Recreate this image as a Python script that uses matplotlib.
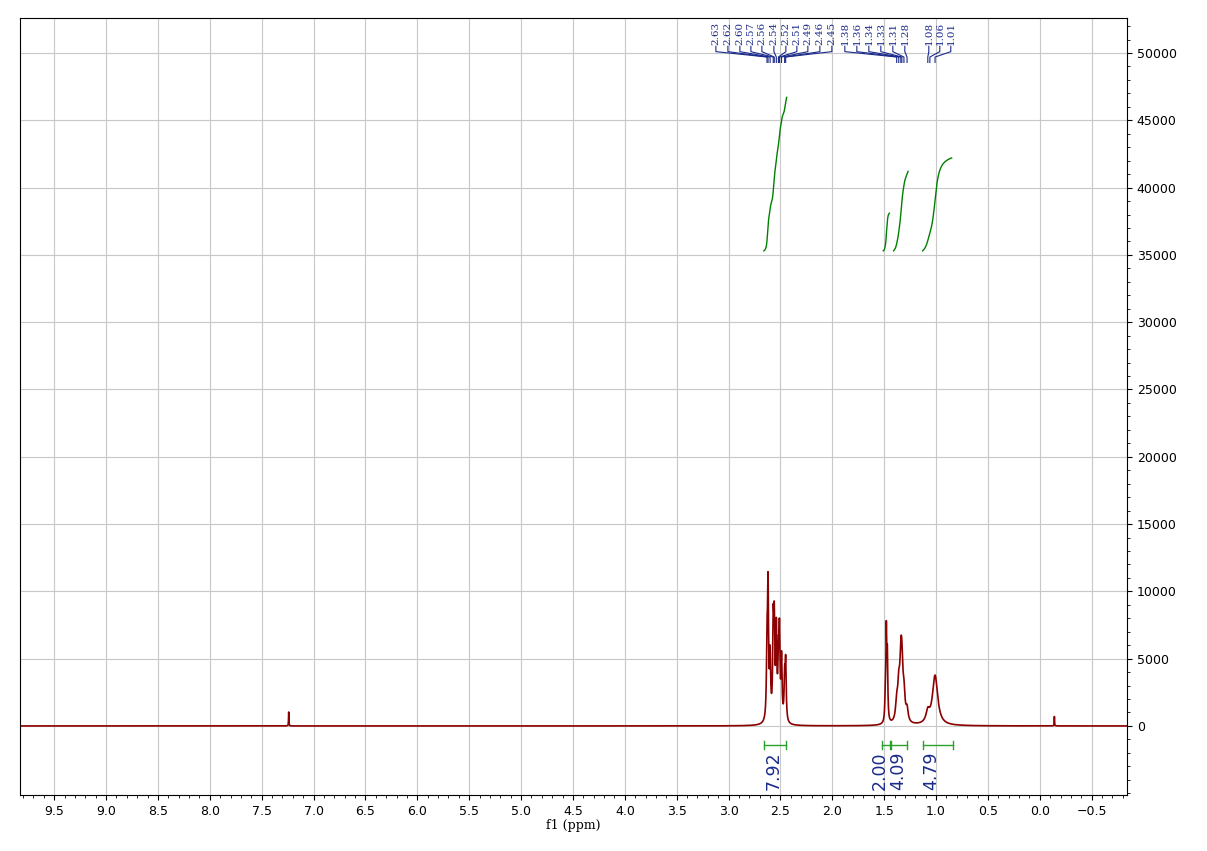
import numpy as np
import matplotlib.pyplot as plt
from matplotlib.ticker import MultipleLocator

# peak list (ppm, height)
peak_ppm = [2.63, 2.62, 2.60, 2.57, 2.56, 2.54, 2.52, 2.51, 2.49, 2.46, 2.45,
            1.49, 1.48, 1.47, 1.38, 1.36, 1.34, 1.33, 1.31, 1.28,
            1.08, 1.01, 7.24, -0.14]
peak_h = [5000, 9500, 4500, 6500, 6500, 6500, 4000, 6000, 4500, 3000, 4200,
          1500, 6500, 4500, 1300, 2300, 3500, 3300, 1800, 900,
          800, 3700, 1050, 700]
peak_w = [0.006] * 11 + [0.005] * 3 + [0.012] * 6 + [0.02, 0.03, 0.002, 0.002]

label_txt = ["2.63", "2.62", "2.60", "2.57", "2.56", "2.54", "2.52", "2.51", "2.49",
             "2.46", "2.45", "1.38", "1.36", "1.34", "1.33", "1.31", "1.28",
             "1.08", "1.06", "1.01"]
label_px = [716, 728, 740, 751, 762, 774, 786, 797, 808, 820, 832,
            845, 857, 869, 881, 893, 905, 929, 940, 951]
lab_peaks = [2.63, 2.62, 2.60, 2.57, 2.56, 2.54, 2.52, 2.51, 2.49, 2.46, 2.45,
             1.38, 1.36, 1.34, 1.33, 1.31, 1.28, 1.08, 1.06, 1.01]

int_ranges = [(2.66, 2.44), (1.51, 1.45), (1.41, 1.27), (1.13, 0.85)]
int_values = ["7.92", "2.00", "4.09", "4.79"]
int_tops = [46700, 38100, 41200, 42200]
int_label_x = [2.57, 1.54, 1.37, 1.05]
int_bracket = [(2.66, 2.45), (1.52, 1.44), (1.43, 1.28), (1.13, 0.84)]

x = np.linspace(9.83, -0.84, 20000)
y = np.zeros_like(x)
for p, h, w in zip(peak_ppm, peak_h, peak_w):
    y += h / (1 + ((x - p) / w) ** 2)

fig = plt.figure(figsize=(12.07, 8.51), dpi=100)
ax = fig.add_axes([20 / 1207, 56 / 851, 1107 / 1207, 777 / 851])
ax.plot(x, y, color='#8b0000', lw=1.2)
ax.set_xlim(9.83, -0.84)
ax.set_ylim(-5130, 52600)

# integral curves
for (a, b), top in zip(int_ranges, int_tops):
    m = (x <= a) & (x >= b)
    c = np.cumsum(y[m])
    c = 35300 + (c - c[0]) / (c[-1] - c[0]) * (top - 35300)
    ax.plot(x[m], c, color='green', lw=1)

# integral brackets and values
for (a, b), lx, v in zip(int_bracket, int_label_x, int_values):
    yb = -1400
    ax.plot([a, b], [yb, yb], color='#2ca02c', lw=1)
    ax.plot([a, a], [yb - 300, yb + 300], color='#2ca02c', lw=1)
    ax.plot([b, b], [yb - 300, yb + 300], color='#2ca02c', lw=1)
    ax.text(lx, -1900, v, rotation=90, ha='center', va='top', color='#1a2a8a', fontsize=12.5)

# peak labels
def px2ppm(px):
    return 9.5 - (px - 54) / 103.8

for t, px, p in zip(label_txt, label_px, lab_peaks):
    lx = px2ppm(px)
    ax.text(lx, 50600, t, rotation=90, ha='center', va='bottom', color='#1a2a8a',
            fontsize=7.5, family='DejaVu Serif')
    ax.plot([lx, lx, p, p], [50500, 50100, 49700, 49300], color='#1a2a8a', lw=0.8)

ax.yaxis.tick_right()
ax.xaxis.set_minor_locator(MultipleLocator(0.1))
ax.yaxis.set_minor_locator(MultipleLocator(1000))
ax.set_yticks(range(0, 50001, 5000))
ax.set_xticks(np.arange(9.5, -0.51, -0.5))
ax.set_xticklabels([f"{v:.1f}".replace("-", "\u2212") for v in np.arange(9.5, -0.51, -0.5)])
ax.grid(True, which='major', color='#c8c8c8', lw=0.8)
ax.tick_params(labelsize=9)
ax.set_xlabel("f1 (ppm)", fontsize=9, labelpad=1, family='DejaVu Serif')
fig.savefig("out.png", dpi=100)
